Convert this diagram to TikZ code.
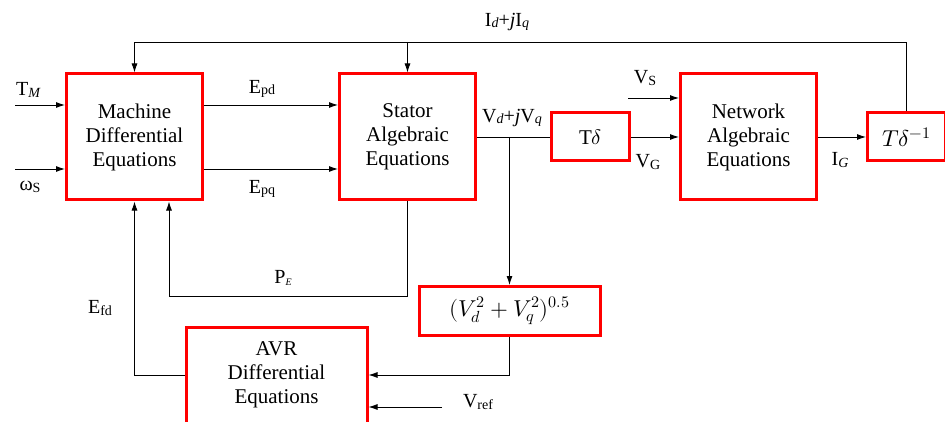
\documentclass[tikz,border=0pt]{standalone}
\usepackage{fontspec}
\usepackage{unicode-math}
\setmainfont{Liberation Serif}
\usetikzlibrary{arrows.meta,positioning}

\newcommand{\lo}[1]{\raisebox{-1.5pt}{\fontsize{14}{14}\selectfont #1}}

\begin{document}
\begin{tikzpicture}[x=1pt,y=1pt,>={Latex[length=9pt,width=6pt]},
font=\fontsize{20}{24}\selectfont,
blk/.style={draw=red,line width=3pt,fill=white,align=center,inner sep=0pt,font=\fontsize{21}{24}\selectfont},
mainbox/.style={blk,minimum width=136pt,minimum height=126pt},
tbox/.style={blk,minimum width=78pt,minimum height=48pt},
arr/.style={->,line width=0.9pt},
wire/.style={line width=0.9pt},
lbl/.style={inner sep=0pt}]
\useasboundingbox (0,0) rectangle (945,421);
% blocks
\node[mainbox] (mde) at (134.5,284) {Machine\\Differential\\Equations};
\node[mainbox,right=134pt of mde] (sae) {Stator\\Algebraic\\Equations};
\node[tbox,right=73pt of sae] (trot) {T$\delta$};
\node[mainbox,right=48pt of trot] (nae) {Network\\Algebraic\\Equations};
\node[tbox,right=48pt of nae,font=\fontsize{23}{24}\selectfont] (tinv) {$T\delta^{-1}$};
\node[blk,minimum width=181pt,minimum height=49pt,font=\fontsize{23}{24}\selectfont] (mag) at (509.5,110) {$(V_d^2+V_q^2)^{0.5}$};
\node[blk,minimum width=181pt,minimum height=96pt] (avr) at (276.5,46) {AVR\\Differential\\Equations};
% helper points
\coordinate (vj) at (mag.north |- sae.east);
\coordinate (tl) at (mde.north |- 0,379);
\coordinate (tr) at (tinv.north |- 0,379);
\coordinate (tm) at (15,316);
\coordinate (ws) at (15,252);
\coordinate (vs) at (628,323);
\coordinate (vref) at (442,14);
\coordinate (pe) at (169,125);
% connectors
\draw[arr] (tinv.north) -- (tr) -- (tl) -- (mde.north);
\draw[arr] (sae.north |- tl) -- (sae.north);
\draw[arr] (tm) -- (tm -| mde.west);
\draw[arr] (ws) -- (ws -| mde.west);
\draw[arr] ([yshift=32pt]mde.east) -- ([yshift=32pt]sae.west);
\draw[arr] ([yshift=-32pt]mde.east) -- ([yshift=-32pt]sae.west);
\draw[wire] (sae.east) -- (trot.west);
\draw[arr] (vj) -- (mag.north);
\draw[arr] (trot.east) -- (nae.west);
\draw[arr] (vs) -- (vs -| nae.west);
\draw[arr] (nae.east) -- (tinv.west);
\draw[arr] (mag.south) |- (avr.east);
\draw[arr] (vref) -- (vref -| avr.east);
\draw[arr] (avr.west) -| (mde.south);
\draw[arr] (sae.south) |- (pe) -- (pe |- mde.south);
% labels
\node[lbl] (lidq) at (507,399) {I\lo{\itshape d}+\textit{j}I\lo{\itshape q}};
\node[lbl] (ltm) at (28,331) {T\lo{\itshape M}};
\node[lbl] (lws) at (30,234) {ω\lo{S}};
\node[lbl] (lepd) at (262,332) {E\lo{pd}};
\node[lbl] (lepq) at (262,232) {E\lo{pq}};
\node[lbl] (lvdq) at (512,303) {V\lo{\itshape d}+\textit{j}V\lo{\itshape q}};
\node[lbl] (lvs) at (645,343) {V\lo{S}};
\node[lbl] (lvg) at (648,259) {V\lo{G}};
\node[lbl] (lig) at (840,261) {I\lo{\itshape G}};
\node[lbl] (lpe) at (283,143) {P\lo{\itshape\fontsize{10}{10}\selectfont E}};
\node[lbl] (lefd) at (100,113) {E\lo{fd}};
\node[lbl] (lvref) at (478,19) {V\lo{ref}};
\end{tikzpicture}
\end{document}
